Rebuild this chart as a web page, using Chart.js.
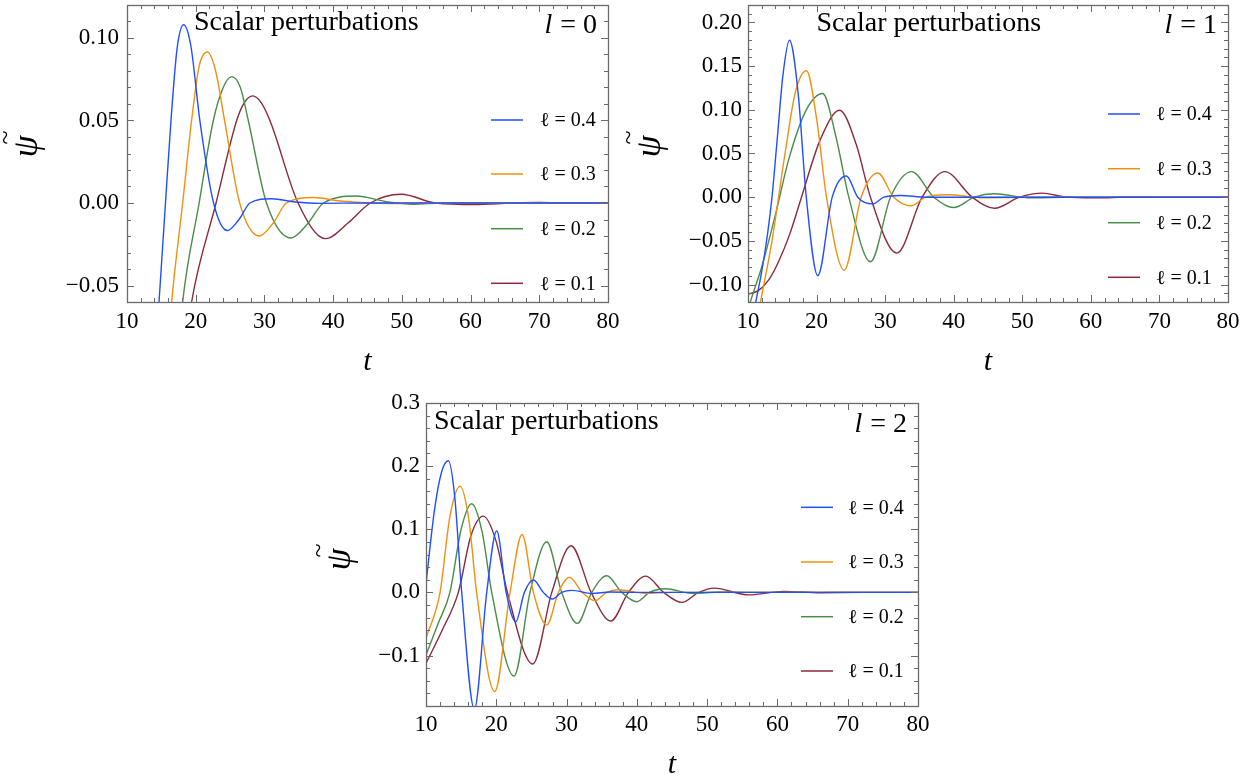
<!DOCTYPE html>
<html><head><meta charset="utf-8">
<script src="https://cdn.jsdelivr.net/npm/chart.js@4.4.1/dist/chart.umd.min.js"></script>
<style>
html,body{margin:0;padding:0;background:#fff;width:1255px;height:780px;overflow:hidden;}
canvas{position:absolute;}
</style></head><body>
<canvas id="c1" width="625" height="390" style="left:0px;top:0px"></canvas>
<canvas id="c2" width="630" height="390" style="left:625px;top:0px"></canvas>
<canvas id="c3" width="640" height="390" style="left:300px;top:390px"></canvas>
<script>
// ---------- data ----------
const legendLabels = ['ℓ = 0.4', 'ℓ = 0.3', 'ℓ = 0.2', 'ℓ = 0.1'];
const panelTitles = ['l = 0', 'l = 1', 'l = 2'];
const xTicks = [10, 20, 30, 40, 50, 60, 70, 80];
const yTicks1 = [-0.05, 0, 0.05, 0.10];
const yTicks2 = [-0.10, -0.05, 0, 0.05, 0.10, 0.15, 0.20];
const yTicks3 = [-0.1, 0, 0.1, 0.2, 0.3];

// panel l = 0
const p1_t04 = [13.5, 14.66, 15.6, 16.4, 17.3, 18.25, 19.3, 20.6, 22.6, 24.6, 26.3, 27.9, 31.05, 34.5, 38, 45, 80];
const p1_y04 = [-0.135, -0.06, 0, 0.05, 0.094, 0.108, 0.095, 0.05, 0, -0.0167, -0.010, 0, 0.0026, 0.0006, -0.0002, 0, 0];
const p1_t03 = [15.2, 16.5, 18.1, 19.4, 20.5, 21.7, 22.9, 24.2, 26.4, 29.26, 31.3, 33.2, 37.2, 41, 45, 48, 55, 80];
const p1_y03 = [-0.13, -0.06, 0, 0.05, 0.083, 0.0915, 0.08, 0.05, 0, -0.020, -0.012, 0, 0.0033, 0.0012, 0, -0.0003, 0, 0];
const p1_t02 = [16.5, 18.1, 20.5, 22.56, 24.0, 25.24, 26.5, 27.65, 30.3, 33.87, 36.2, 38.6, 43.4, 47.5, 51.6, 56, 80];
const p1_y02 = [-0.14, -0.06, 0, 0.05, 0.070, 0.0766, 0.07, 0.05, 0, -0.0212, -0.013, 0, 0.0042, 0.001, -0.0008, 0, 0];
const p1_t01 = [17.5, 19.4, 22.96, 25.96, 27.1, 28.3, 29.5, 30.8, 34.9, 38.9, 42.2, 45.4, 49.9, 54.9, 60.6, 66, 70, 75, 80];
const p1_y01 = [-0.12, -0.06, 0, 0.05, 0.061, 0.0649, 0.061, 0.05, 0, -0.0216, -0.012, 0, 0.0053, 0, -0.0009, 0, 0.0003, 0, 0];

// panel l = 1
const p2_t04 = [10.3, 11.1, 12.0, 12.8, 13.5, 14.3, 15.1, 16.05, 17.3, 18.5, 20.18, 22.28, 24.36, 26.0, 28.2, 29.8, 32.2, 36, 80];
const p2_y04 = [-0.15, -0.121, -0.085, -0.045, 0, 0.07, 0.14, 0.1797, 0.12, 0, -0.090, 0, 0.0242, 0, -0.0077, 0, 0.002, 0, 0];
const p2_t03 = [10.8, 11.8, 13.5, 15.4, 16.9, 18.53, 20.0, 21.45, 24.03, 26.5, 28.93, 31.26, 33.8, 35.9, 39.05, 44.4, 50, 80];
const p2_y03 = [-0.165, -0.121, -0.05, 0.05, 0.12, 0.1448, 0.09, 0, -0.0837, 0, 0.0277, 0, -0.0099, 0, 0.0028, -0.0006, 0, 0];
const p2_t02 = [10, 10.3, 12, 14, 16, 18.5, 20.9, 22.8, 24.7, 27.87, 30.78, 33.85, 37.1, 40.0, 43.0, 45.85, 51.4, 56, 80];
const p2_y02 = [-0.13, -0.121, -0.08, -0.02, 0.045, 0.1, 0.1187, 0.07, 0, -0.074, 0, 0.0293, 0, -0.0119, 0, 0.0039, -0.0008, 0, 0];
const p2_t01 = [10, 11.5, 13, 14.5, 16.1, 17.8, 20.5, 23.35, 25.8, 27.86, 31.7, 35.4, 38.7, 42.7, 45.95, 49.6, 52.9, 56.5, 60.4, 66, 72, 80];
const p2_y01 = [-0.111, -0.107, -0.095, -0.073, -0.042, 0, 0.065, 0.0995, 0.06, 0, -0.064, 0, 0.0293, 0, -0.0127, 0, 0.0046, 0, -0.0008, 0.0002, 0, 0];

// panel l = 2
const p3_t04 = [10, 11.2, 12.2, 13.18, 14.1, 15.08, 16.88, 18.64, 20.06, 21.4, 22.77, 24.0, 25.28, 26.7, 27.98, 29.3, 30.74, 33.6, 36.2, 40, 80];
const p3_y04 = [0.014, 0.13, 0.19, 0.2084, 0.15, 0, -0.185, 0, 0.0976, 0, -0.0465, 0, 0.0195, 0, -0.0106, 0, 0.0032, -0.0016, 0.0005, 0, 0];
const p3_t03 = [10, 12.0, 13.4, 14.84, 16.1, 17.2, 19.78, 21.96, 23.67, 25.28, 27.18, 28.84, 30.4, 32.25, 34.06, 35.7, 37.3, 41.4, 45, 80];
const p3_y03 = [-0.0728, 0, 0.12, 0.168, 0.115, 0, -0.157, 0, 0.0918, 0, -0.0518, 0, 0.0237, 0, -0.0133, 0, 0.0041, -0.0016, 0, 0];
const p3_t02 = [10, 11.7, 13.4, 15.0, 16.5, 18.0, 19.35, 22.53, 24.8, 27.18, 29.3, 31.54, 33.59, 35.72, 37.85, 40.0, 41.8, 44.0, 48, 51.9, 56, 80];
const p3_y02 = [-0.0993, -0.05, 0, 0.1, 0.1403, 0.095, 0, -0.1325, 0, 0.0802, 0, -0.0491, 0, 0.0263, 0, -0.0148, 0, 0.0057, -0.0016, 0.0005, 0, 0];
const p3_t01 = [10, 12.3, 14.6, 16.4, 18.16, 20.0, 21.58, 25.19, 27.9, 30.64, 33.49, 36.3, 38.8, 41.27, 43.8, 46.4, 48.8, 51.0, 55.9, 60.9, 66.1, 72, 80];
const p3_y01 = [-0.1124, -0.06, 0, 0.09, 0.1208, 0.08, 0, -0.1135, 0, 0.0738, 0, -0.0454, 0, 0.0258, 0, -0.0159, 0, 0.0068, -0.004, 0.0016, -0.0006, 0, 0];

// ---------- styling ----------
const FONT = "'Liberation Serif','DejaVu Serif',serif";
const colors = ['#1f4fff', '#f0900f', '#4a8c4a', '#8a2a3a'];

function pts(ts, ys) { return ts.map((t, i) => ({x: t, y: ys[i]})); }
function makeSets(series) {
  return series.map((s, i) => ({
    label: legendLabels[i], data: pts(s[0], s[1]),
    borderColor: colors[i], backgroundColor: colors[i],
    borderWidth: 1.4, pointRadius: 0, cubicInterpolationMode: 'monotone', fill: false
  }));
}
function fmt(v, dec) { return (v < 0 ? '\u2212' : '') + Math.abs(v).toFixed(dec); }

const decor = {
  id: 'decor',
  afterDatasetsDraw(chart, args, o) {
    const {ctx, chartArea: a, scales: {x, y}} = chart;
    ctx.save();
    ctx.strokeStyle = '#6a6a6a';
    ctx.lineWidth = 1;
    ctx.beginPath();
    const eps = 1e-6;
    const nx = Math.round((x.max - x.min) / o.xMinor);
    for (let i = 0; i <= nx; i++) {
      const v = x.min + i * o.xMinor;
      const major = xTicks.some(t => Math.abs(t - v) < eps);
      const L = major ? o.majorLen : o.minorLen;
      const px = Math.round(x.getPixelForValue(v)) + 0.5;
      ctx.moveTo(px, a.bottom); ctx.lineTo(px, a.bottom - L);
      ctx.moveTo(px, a.top); ctx.lineTo(px, a.top + L);
    }
    const ny = Math.round((y.max - y.min) / o.yMinor);
    for (let i = 0; i <= ny; i++) {
      const v = y.min + i * o.yMinor;
      const major = o.yTicks.some(t => Math.abs(t - v) < eps);
      const L = major ? o.majorLen : o.minorLen;
      const py = Math.round(y.getPixelForValue(v)) + 0.5;
      ctx.moveTo(a.left, py); ctx.lineTo(a.left + L, py);
      ctx.moveTo(a.right, py); ctx.lineTo(a.right - L, py);
    }
    ctx.stroke();
    ctx.lineWidth = 1.3;
    ctx.strokeRect(Math.round(a.left) + 0.5, Math.round(a.top) + 0.5, Math.round(a.width), Math.round(a.height));

    // title texts
    ctx.fillStyle = '#000';
    ctx.textBaseline = 'alphabetic';
    ctx.textAlign = 'left';
    ctx.font = `${o.titleSize}px ${FONT}`;
    ctx.fillText('Scalar perturbations', a.left + o.titleDx, a.top + o.titleDy);
    // l = n
    const parts = o.lLabel.split(' = ');
    ctx.font = `italic ${o.titleSize}px ${FONT}`;
    const w1 = ctx.measureText(parts[0]).width;
    ctx.font = `${o.titleSize}px ${FONT}`;
    const rest = ' = ' + parts[1];
    const w2 = ctx.measureText(rest).width;
    const x0 = a.right - o.lDx - (w1 + w2);
    ctx.font = `italic ${o.titleSize}px ${FONT}`;
    ctx.fillText(parts[0], x0, a.top + o.lDy);
    ctx.font = `${o.titleSize}px ${FONT}`;
    ctx.fillText(rest, x0 + w1 + 1, a.top + o.lDy);

    // legend
    ctx.textBaseline = 'middle';
    ctx.font = `${o.legSize}px ${FONT}`;
    chart.data.datasets.forEach((ds, i) => {
      const yy = a.top + o.legY[i];
      ctx.strokeStyle = ds.borderColor;
      ctx.lineWidth = 1.5;
      ctx.beginPath();
      ctx.moveTo(a.right - o.legX1, yy); ctx.lineTo(a.right - o.legX2, yy);
      ctx.stroke();
      ctx.fillText(ds.label, a.right - o.legTx, yy + 1);
    });

    // rotated y-axis label psi with tilde
    const cy = (a.top + a.bottom) / 2 + o.psiDy;
    ctx.translate(o.psiX, cy);
    ctx.rotate(-Math.PI / 2);
    ctx.textAlign = 'center';
    ctx.textBaseline = 'alphabetic';
    ctx.font = `italic 35px ${FONT}`;
    ctx.fillText('ψ', 0, 0);
    ctx.font = `26px ${FONT}`;
    ctx.fillText('~', 9, -24);
    ctx.restore();
  }
};

function makePanel(id, series, p) {
  return new Chart(document.getElementById(id), {
    type: 'line',
    data: {datasets: makeSets(series)},
    options: {
      responsive: false, animation: false, devicePixelRatio: 1,
      layout: {padding: p.pad},
      plugins: {legend: {display: false}, tooltip: {enabled: false}, decor: p.decor},
      scales: {
        x: {
          type: 'linear', min: 10, max: 80,
          afterBuildTicks: s => { s.ticks = xTicks.map(v => ({value: v})); },
          afterFit: s => { s.height = p.xh; s.paddingLeft = 0; s.paddingRight = 0; s.paddingTop = 0; s.paddingBottom = 0; },
          grid: {display: false, drawTicks: false}, border: {display: false},
          ticks: {autoSkip: false, maxRotation: 0, padding: p.xtp, color: '#000',
                  font: {family: FONT, size: 23}, callback: v => String(v)},
          title: {display: true, text: 't', color: '#000',
                  font: {family: FONT, size: 30, style: 'italic', lineHeight: 1},
                  padding: {top: 0, bottom: p.ttb}}
        },
        y: {
          type: 'linear', min: p.ymin, max: p.ymax,
          afterBuildTicks: s => { s.ticks = p.yTicks.map(v => ({value: v})); },
          afterFit: s => { s.width = p.yw; s.paddingLeft = 0; s.paddingRight = 0; s.paddingTop = 0; s.paddingBottom = 0; },
          grid: {display: false, drawTicks: false}, border: {display: false},
          ticks: {autoSkip: false, padding: p.ytkp, color: '#000',
                  font: {family: FONT, size: 23}, callback: v => fmt(v, p.dec)},
          title: {display: false}
        }
      }
    },
    plugins: [decor]
  });
}

makePanel('c1', [[p1_t04, p1_y04], [p1_t03, p1_y03], [p1_t02, p1_y02], [p1_t01, p1_y01]], {
  pad: {top: 5, right: 17, left: 0, bottom: 0}, xh: 88, yw: 127, xtp: 6, ttb: 13, ytkp: 8,
  ymin: -0.06, ymax: 0.12, yTicks: yTicks1, dec: 2,
  decor: {xMinor: 2, yMinor: 0.01, yTicks: yTicks1, majorLen: 7, minorLen: 4,
          titleSize: 28, titleDx: 67, titleDy: 25, lLabel: panelTitles[0], lDx: 12, lDy: 28,
          legSize: 20, legX1: 117, legX2: 85, legTx: 68, legY: [115, 169, 223.7, 278.3],
          psiX: 37, psiDy: -7}
});
makePanel('c2', [[p2_t04, p2_y04], [p2_t03, p2_y03], [p2_t02, p2_y02], [p2_t01, p2_y01]], {
  pad: {top: 5, right: 27, left: 0, bottom: 0}, xh: 88, yw: 123, xtp: 6, ttb: 13, ytkp: 6,
  ymin: -0.12, ymax: 0.22, yTicks: yTicks2, dec: 2,
  decor: {xMinor: 2, yMinor: 0.01, yTicks: yTicks2, majorLen: 7, minorLen: 4,
          titleSize: 28, titleDx: 68.5, titleDy: 26, lLabel: panelTitles[1], lDx: 12, lDy: 28,
          legSize: 20, legX1: 120, legX2: 88, legTx: 72, legY: [109, 163.7, 217.7, 272.3],
          psiX: 35, psiDy: -7}
});
makePanel('c3', [[p3_t04, p3_y04], [p3_t03, p3_y03], [p3_t02, p3_y02], [p3_t01, p3_y01]], {
  pad: {top: 13, right: 22, left: 0, bottom: 0}, xh: 74, yw: 126, xtp: 5, ttb: 0, ytkp: 6,
  ymin: -0.18, ymax: 0.3, yTicks: yTicks3, dec: 1,
  decor: {xMinor: 2, yMinor: 0.02, yTicks: yTicks3, majorLen: 7, minorLen: 4,
          titleSize: 28, titleDx: 8, titleDy: 26, lLabel: panelTitles[2], lDx: 12, lDy: 29,
          legSize: 20, legX1: 117, legX2: 85, legTx: 70, legY: [104.3, 159, 213.7, 268],
          psiX: 50, psiDy: 5}
});
</script>
</body></html>
